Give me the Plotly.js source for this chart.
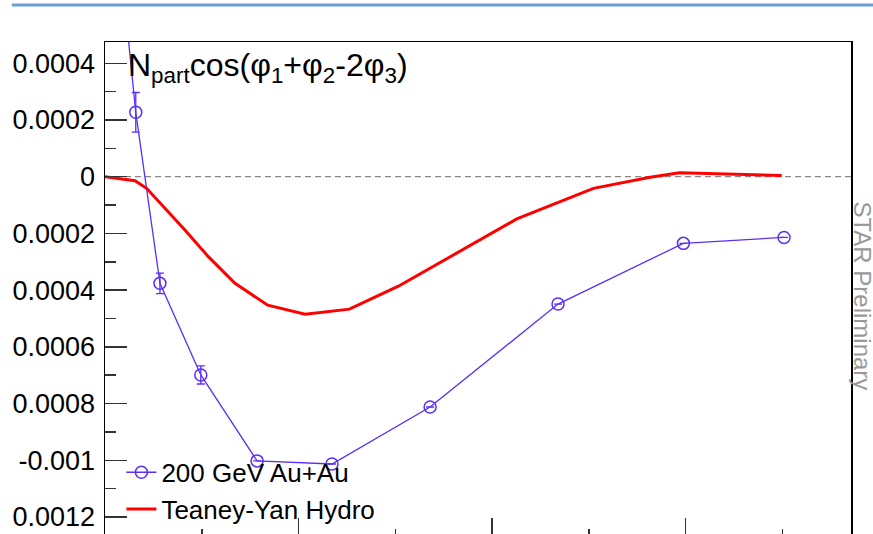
<!DOCTYPE html>
<html>
<head>
<meta charset="utf-8">
<script src="https://cdn.plot.ly/plotly-3.0.1.min.js"></script>
<style>
html, body { margin: 0; padding: 0; overflow: hidden; background: #fff; width: 873px; height: 534px; }
#chart { width: 873px; height: 560px; }
</style>
</head>
<body>
<div id="chart"></div>
<script>
// ---- data ----
const dataNpart = [6.5, 15.9, 28.4, 49.5, 78.6, 117.3, 168.0, 234.1, 298.9, 350.9];
const dataValue = [0.00086, 0.000227, -0.000376, -0.000699, -0.001002, -0.001013, -0.000812, -0.000449, -0.000235, -0.000214];
const dataError = [0.00007, 0.00007, 0.000036, 0.000032, 0, 0, 0, 0, 0, 0];

const hydroNpart = [0, 7.8, 15.5, 21.5, 31.9, 41.3, 53.4, 67.2, 84.1, 103.4, 126.3, 151.6, 212.8, 252.4, 281.7, 296.8, 349.7];
const hydroValue = [0, -0.000007, -0.000014, -0.000041, -0.000117, -0.000188, -0.000282, -0.000376, -0.000453, -0.000485, -0.000467, -0.000386, -0.000149, -0.000041, -0.000002, 0.000014, 0.000004];

const yTickVals = [0.0004, 0.0002, 0, -0.0002, -0.0004, -0.0006, -0.0008, -0.001, -0.0012];
const yTickText = ["0.0004", "0.0002", "0", "0.0002", "0.0004", "0.0006", "0.0008", "-0.001", "0.0012"];

const dataName = "200 GeV Au+Au";
const hydroName = "Teaney-Yan Hydro";
const titleText = "N<sub>part</sub>cos(φ<sub>1</sub>+φ<sub>2</sub>-2φ<sub>3</sub>)";
const watermark = "STAR Preliminary";

// ---- chart ----
const FONT = "Liberation Sans, Arial, Helvetica, sans-serif";
const blue = "#5a2ef7";

const traces = [
  {
    x: dataNpart, y: dataValue, name: dataName, type: "scatter", mode: "lines+markers",
    line: { color: blue, width: 1.3 },
    marker: { symbol: "circle-open", size: 12, color: blue, line: { width: 1.5, color: blue } },
    error_y: { type: "data", array: dataError, visible: true, color: blue, thickness: 1.3, width: 4 }
  },
  {
    x: hydroNpart, y: hydroValue, name: hydroName, type: "scatter", mode: "lines",
    line: { color: "#ff0000", width: 3 }
  }
];

const layout = {
  width: 873, height: 560,
  margin: { l: 105, r: 22, t: 42, b: 20 },
  paper_bgcolor: "#ffffff", plot_bgcolor: "#ffffff",
  font: { family: FONT, color: "#000" },
  showlegend: true,
  legend: {
    x: 0.022, y: 0.183, xanchor: "left", yanchor: "top",
    bgcolor: "rgba(0,0,0,0)", borderwidth: 0,
    font: { family: FONT, size: 26, color: "#000" },
    tracegroupgap: 0
  },
  xaxis: {
    range: [0, 385.5], showgrid: false, zeroline: false,
    showline: true, mirror: true, linecolor: "#000", linewidth: 1.5,
    ticks: "inside", ticklen: 22, tickwidth: 1.5, tickcolor: "#333",
    dtick: 100, tick0: 0, showticklabels: false,
    minor: { ticks: "inside", ticklen: 11, tickwidth: 1.5, tickcolor: "#333", dtick: 50 }
  },
  yaxis: {
    range: [-0.001281, 0.000475], showgrid: false, zeroline: false,
    showline: true, mirror: true, linecolor: "#000", linewidth: 1.5,
    ticks: "inside", ticklen: 22, tickwidth: 1.5, tickcolor: "#333",
    tickmode: "array", tickvals: yTickVals, ticktext: yTickText,
    tickfont: { family: FONT, size: 27, color: "#000" },
    ticklabelstandoff: 3,
    minor: { ticks: "inside", ticklen: 11, tickwidth: 1.5, tickcolor: "#333", dtick: 0.0001, tick0: 0 }
  },
  shapes: [
    { type: "line", xref: "paper", yref: "y", x0: 0, x1: 1, y0: 0, y1: 0,
      line: { color: "#888", width: 1.3, dash: "6px,4px" }, layer: "below" },
    { type: "line", xref: "paper", yref: "paper", x0: -0.125, x1: 1.03, y0: 1.0743, y1: 1.0743,
      line: { color: "#6a9fd4", width: 3 } }
  ],
  annotations: [
    { text: titleText, xref: "paper", yref: "paper", x: 0.028, y: 1.0, xanchor: "left", yanchor: "top",
      yshift: -3, showarrow: false, font: { family: FONT, size: 32, color: "#000" } },
    { text: watermark, xref: "paper", yref: "paper", x: 1.0101, y: 0.49, xanchor: "center", yanchor: "middle",
      xshift: 3, showarrow: false, textangle: 90, font: { family: FONT, size: 24, color: "#999" } }
  ]
};

Plotly.newPlot("chart", traces, layout, { displayModeBar: false, staticPlot: true });
</script>
</body>
</html>
